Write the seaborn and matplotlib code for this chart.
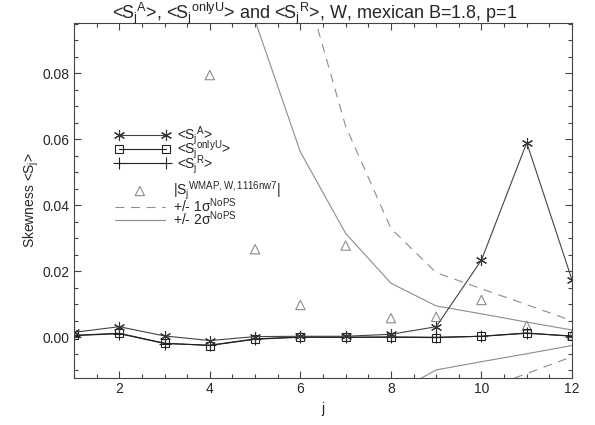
import numpy as np
import pandas as pd
import matplotlib
matplotlib.use("Agg")
import matplotlib.pyplot as plt
import seaborn as sns
from matplotlib.ticker import MultipleLocator, FormatStrFormatter

# scale index
j = [1, 2, 3, 4, 5, 6, 7, 8, 9, 10, 11, 12]

# mean skewness per scale
s_all = [0.0015, 0.0032, 0.0004, -0.0010, 0.0002, 0.0003, 0.0003, 0.0009, 0.0032, 0.0234, 0.0590, 0.0174]
s_onlyu = [0.0006, 0.0012, -0.0018, -0.0025, -0.0006, 0.0000, 0.0000, 0.0000, -0.0001, 0.0003, 0.0013, 0.0003]
s_r = [0.0005, 0.0011, -0.0019, -0.0024, -0.0005, 0.0001, 0.0000, 0.0001, 0.0000, 0.0003, 0.0012, 0.0004]

# |S_j| of WMAP W map (j=1..3 not visible in the reference)
s_wmap = [np.nan, np.nan, np.nan, 0.0795, 0.0267, 0.0098, 0.0278, 0.0058, 0.0062, 0.0113, 0.0035, 0.0006]

# sigma bands, no point sources
sig1_up = [0.90, 0.60, 0.40, 0.28, 0.19, 0.112, 0.064, 0.033, 0.0196, 0.0147, 0.0099, 0.0050]
sig1_lo = [-0.90, -0.60, -0.40, -0.28, -0.19, -0.114, -0.066, -0.035, -0.0216, -0.0160, -0.0110, -0.0059]
sig2_up = [0.45, 0.30, 0.20, 0.14, 0.096, 0.0562, 0.0315, 0.0164, 0.0095, 0.0071, 0.0046, 0.0022]
sig2_lo = [-0.45, -0.30, -0.20, -0.14, -0.098, -0.058, -0.033, -0.0175, -0.0099, -0.0074, -0.0050, -0.0025]

sns.set_style("ticks")
plt.rcParams["font.family"] = ["Liberation Sans", "DejaVu Sans"]
plt.rcParams["mathtext.fontset"] = "custom"
plt.rcParams["mathtext.rm"] = "Liberation Sans"
plt.rcParams["mathtext.it"] = "Liberation Sans"
plt.rcParams["mathtext.default"] = "regular"

fig = plt.figure(figsize=(5.95, 4.25), dpi=100)
ax = fig.add_axes([74 / 595, 1 - 377.5 / 425, 498 / 595, 354.2 / 425])

grey = "#8c8c8c"
dark = "#222222"

# sigma curves
sns.lineplot(x=j, y=sig1_up, ax=ax, color=grey, lw=0.8,
             linestyle=(0, (8, 6)), label="+/- 1σ$^{NoPS}$")
sns.lineplot(x=j, y=sig1_lo, ax=ax, color=grey, lw=0.8, linestyle=(0, (8, 6)))
sns.lineplot(x=j, y=sig2_up, ax=ax, color=grey, lw=0.8, label="+/- 2σ$^{NoPS}$")
sns.lineplot(x=j, y=sig2_lo, ax=ax, color=grey, lw=0.8)

# WMAP points
sns.scatterplot(x=j, y=s_wmap, ax=ax, marker="^", s=45, facecolor="none",
                edgecolor=grey, linewidth=0.8, label="|S$_{j}{}^{WMAP,W,1116nw7}$|")

# mean skewness curves
sns.lineplot(x=j, y=s_r, ax=ax, color=dark, lw=0.8, marker="+", ms=8,
             mec=dark, mew=0.8, label="<S$_{j}{}^{R}$>")
sns.lineplot(x=j, y=s_onlyu, ax=ax, color=dark, lw=0.8, marker="s", ms=6,
             mfc="none", mec=dark, mew=0.8, label="<S$_{j}{}^{onlyU}$>")
sns.lineplot(x=j, y=s_all, ax=ax, color="#444444", lw=0.8, marker=(6, 2, 0), ms=8,
             mec="#333333", mew=0.8, label="<S$_{j}{}^{A}$>")

ax.set_xlim(1, 12)
ax.set_ylim(-0.0122, 0.0952)
ax.xaxis.set_major_locator(MultipleLocator(2))
ax.xaxis.set_minor_locator(MultipleLocator(0.5))
ax.yaxis.set_major_locator(MultipleLocator(0.02))
ax.yaxis.set_minor_locator(MultipleLocator(0.005))
ax.yaxis.set_major_formatter(FormatStrFormatter("%.2f"))
ax.tick_params(which="both", direction="in", top=True, right=True,
               labelsize=10, color="#444444", width=0.8)
ax.tick_params(which="major", length=5)
ax.tick_params(which="minor", length=3)
for sp in ax.spines.values():
    sp.set_color("#444444")
    sp.set_linewidth(0.8)

ax.set_xlabel("j", fontsize=10, labelpad=4)
ax.set_ylabel("Skewness <S$_j$>", fontsize=10, labelpad=1)
ax.set_title("<S$_{j}{}^{A}$>, <S$_{j}{}^{onlyU}$> and <S$_{j}{}^{R}$>, W, mexican B=1.8, p=1",
             fontsize=13, pad=3, x=0.484, y=1.0)

# two legends like the original
handles, labels = ax.get_legend_handles_labels()
h = dict(zip(labels, handles))
ax.legend_.remove()
top = [l for l in labels if l.startswith("<")][::-1]
bottom = [l for l in labels if not l.startswith("<")]
bottom = [bottom[2], bottom[0], bottom[1]]
leg1 = ax.legend([h[l] for l in top], top, loc="upper left", bbox_to_anchor=(0.082, 0.715),
                 frameon=False, numpoints=2, handlelength=4.0, handletextpad=0.45,
                 labelspacing=-0.6, borderpad=0, borderaxespad=0, fontsize=10)
ax.add_artist(leg1)
ax.legend([h[l] for l in bottom], bottom, loc="upper left", bbox_to_anchor=(0.082, 0.56),
          frameon=False, scatterpoints=1, handlelength=3.6, handletextpad=0.6,
          labelspacing=-0.42, borderpad=0, borderaxespad=0, fontsize=10)

fig.savefig("out.png", dpi=100)
